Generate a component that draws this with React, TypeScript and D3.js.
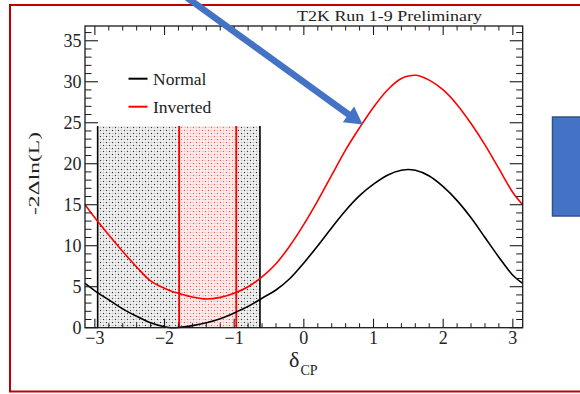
import React from "react";
import * as d3 from "d3";

// ---- data ----
const deltaGrid = [-3.1416, -3.0, -2.8, -2.6, -2.4, -2.2, -2.0, -1.9, -1.8, -1.6, -1.4, -1.2, -1.0, -0.8, -0.6, -0.4, -0.2, 0.0, 0.2, 0.4, 0.6, 0.8, 1.0, 1.2, 1.4, 1.5, 1.6, 1.8, 2.0, 2.2, 2.4, 2.6, 2.8, 3.0, 3.1416];
const normalValues = [5.4, 4.5, 3.4, 2.3, 1.4, 0.6, 0.12, 0.0, 0.03, 0.25, 0.6, 1.1, 1.8, 2.6, 3.6, 4.6, 6.0, 7.9, 10.0, 12.2, 14.3, 16.1, 17.5, 18.6, 19.2, 19.3, 19.2, 18.5, 17.2, 15.5, 13.4, 11.0, 8.6, 6.4, 5.4];
const invertedValues = [15.0, 13.4, 11.3, 9.3, 7.4, 5.7, 4.8, 4.45, 4.2, 3.75, 3.5, 3.7, 4.2, 5.0, 6.2, 7.8, 10.0, 12.6, 15.5, 18.6, 21.7, 24.4, 26.9, 29.0, 30.4, 30.7, 30.8, 30.2, 29.0, 27.2, 24.9, 22.3, 19.4, 16.5, 15.0];

const xTickValues = [-3, -2, -1, 0, 1, 2, 3];
const yTickValues = [0, 5, 10, 15, 20, 25, 30, 35];
const legendLabels = ["Normal", "Inverted"];
const legendColors = ["#000000", "#ff0000"];
const normalBand = [-2.96, -0.63];
const invertedBand = [-1.79, -0.97];
const bandTop = 24.6;
const titleText = "T2K Run 1-9 Preliminary";
const yAxisTitle = "-2Δln(L)";

export default function App() {
  const W = 580, H = 394;
  const left = 85, right = 522.7, top = 26, bottom = 327.7;
  const x = d3.scaleLinear().domain([-Math.PI, Math.PI]).range([left, right]);
  const y = d3.scaleLinear().domain([0, 36.8]).range([bottom, top]);

  const line = d3
    .line<number>()
    .x((_, i) => x(deltaGrid[i]))
    .y((d) => y(d))
    .curve(d3.curveMonotoneX);

  const xMinor = d3.range(-3.2, 3.21, 0.2).map((v) => Math.round(v * 10) / 10).filter((v) => v >= -Math.PI && v <= Math.PI && Math.abs(v - Math.round(v)) > 1e-6);
  const yMinor = d3.range(0, 37, 1).filter((v) => v % 5 !== 0 && v <= 36.8);

  const xMajLen = 9, xMinLen = 4.5, yMajLen = 13, yMinLen = 6.5;
  const axisColor = "#1a1a1a";
  const font = "'Liberation Serif', 'Times New Roman', serif";

  return (
    <svg width={W} height={H} style={{ position: "absolute", left: 0, top: 0, background: "#fff", fontFamily: font }}>
      <defs>
        <pattern id="blackDots" width="6" height="6" patternUnits="userSpaceOnUse">
          <rect width="6" height="6" fill="#ffffff" />
          <rect x="0.5" y="0.5" width="2" height="2" fill="#c4c4c4" />
          <rect x="3.5" y="0.5" width="2" height="2" fill="#c4c4c4" />
          <rect x="0.5" y="3.5" width="2" height="2" fill="#c4c4c4" />
          <rect x="3.5" y="3.5" width="2" height="2" fill="#c4c4c4" />
          <rect x="1" y="1" width="1" height="1" fill="#333" />
          <rect x="4" y="4" width="1" height="1" fill="#333" />
        </pattern>
        <pattern id="redDots" width="6" height="6" patternUnits="userSpaceOnUse">
          <rect width="6" height="6" fill="#ffffff" />
          <rect x="0.5" y="0.5" width="2" height="2" fill="#ffbcbc" />
          <rect x="3.5" y="0.5" width="2" height="2" fill="#ffbcbc" />
          <rect x="0.5" y="3.5" width="2" height="2" fill="#ffbcbc" />
          <rect x="3.5" y="3.5" width="2" height="2" fill="#ffbcbc" />
          <rect x="1" y="1" width="1" height="1" fill="#ff5050" />
          <rect x="4" y="4" width="1" height="1" fill="#ff5050" />
        </pattern>
      </defs>

      {/* outer red frame */}
      <rect x={10} y={5} width={620} height={386.5} fill="none" stroke="#c00000" strokeWidth={2} />

      {/* bands */}
      <rect x={x(normalBand[0])} y={y(bandTop)} width={x(normalBand[1]) - x(normalBand[0])} height={y(0) - y(bandTop)} fill="url(#blackDots)" />
      <rect x={x(invertedBand[0])} y={y(bandTop)} width={x(invertedBand[1]) - x(invertedBand[0])} height={y(0) - y(bandTop)} fill="url(#redDots)" />
      {normalBand.map((v, i) => (
        <line key={"nb" + i} x1={x(v)} x2={x(v)} y1={y(0)} y2={y(bandTop)} stroke="#000" strokeWidth={1.6} />
      ))}
      {invertedBand.map((v, i) => (
        <line key={"ib" + i} x1={x(v)} x2={x(v)} y1={y(0)} y2={y(bandTop)} stroke="#ff0000" strokeWidth={1.8} />
      ))}

      {/* curves */}
      <path d={line(normalValues) || ""} fill="none" stroke="#000" strokeWidth={1.6} />
      <path d={line(invertedValues) || ""} fill="none" stroke="#ff0000" strokeWidth={1.6} />

      {/* frame */}
      <rect x={left} y={top} width={right - left} height={bottom - top} fill="none" stroke={axisColor} strokeWidth={1.3} />

      {/* x ticks bottom & top */}
      {xTickValues.map((v) => (
        <g key={"xt" + v}>
          <line x1={x(v)} x2={x(v)} y1={bottom} y2={bottom - xMajLen} stroke={axisColor} strokeWidth={1.1} />
          <line x1={x(v)} x2={x(v)} y1={top} y2={top + xMajLen} stroke={axisColor} strokeWidth={1.1} />
          <text x={x(v)} y={344} fontSize={18} textAnchor="middle" fill="#222">
            {v < 0 ? "\u2212" + Math.abs(v) : String(v)}
          </text>
        </g>
      ))}
      {xMinor.map((v) => (
        <g key={"xm" + v}>
          <line x1={x(v)} x2={x(v)} y1={bottom} y2={bottom - xMinLen} stroke={axisColor} strokeWidth={1} />
          <line x1={x(v)} x2={x(v)} y1={top} y2={top + xMinLen} stroke={axisColor} strokeWidth={1} />
        </g>
      ))}

      {/* y ticks left & right */}
      {yTickValues.map((v) => (
        <g key={"yt" + v}>
          <line x1={left} x2={left + yMajLen} y1={y(v)} y2={y(v)} stroke={axisColor} strokeWidth={1.1} />
          <line x1={right} x2={right - yMajLen} y1={y(v)} y2={y(v)} stroke={axisColor} strokeWidth={1.1} />
          <text x={81.5} y={y(v) + 6} fontSize={18} textAnchor="end" fill="#222">
            {v}
          </text>
        </g>
      ))}
      {yMinor.map((v) => (
        <g key={"ym" + v}>
          <line x1={left} x2={left + yMinLen} y1={y(v)} y2={y(v)} stroke={axisColor} strokeWidth={1} />
          <line x1={right} x2={right - yMinLen} y1={y(v)} y2={y(v)} stroke={axisColor} strokeWidth={1} />
        </g>
      ))}

      {/* axis titles */}
      <text transform="translate(38.5,173.5) rotate(-90)" fontSize={15} textAnchor="middle" textLength={83} lengthAdjust="spacingAndGlyphs" fill="#222">
        {yAxisTitle}
      </text>
      <text x={289} y={367} fontSize={22} fill="#222">δ</text>
      <text x={300.5} y={375} fontSize={14} fill="#222">CP</text>

      {/* title */}
      <text x={297} y={20.5} fontSize={15} textLength={185} lengthAdjust="spacingAndGlyphs" fill="#222">
        {titleText}
      </text>

      {/* legend */}
      {legendLabels.map((lab, i) => (
        <g key={lab}>
          <line x1={128.5} x2={147.5} y1={78.7 + i * 28} y2={78.7 + i * 28} stroke={legendColors[i]} strokeWidth={2} />
          <text x={153} y={85 + i * 27.7} fontSize={17.5} fill="#222">
            {lab}
          </text>
        </g>
      ))}

      {/* annotations: blue arrow and box */}
      <line x1={182} x2={350} y1={-6} y2={115.5} stroke="#4472c4" strokeWidth={6.5} />
      <polygon points="362.7,124.5 342.8,122.3 354.1,106.5" fill="#4472c4" />
      <rect x={552.5} y={117} width={40} height={99} fill="#4472c4" stroke="#2f528f" strokeWidth={1.5} />
    </svg>
  );
}
